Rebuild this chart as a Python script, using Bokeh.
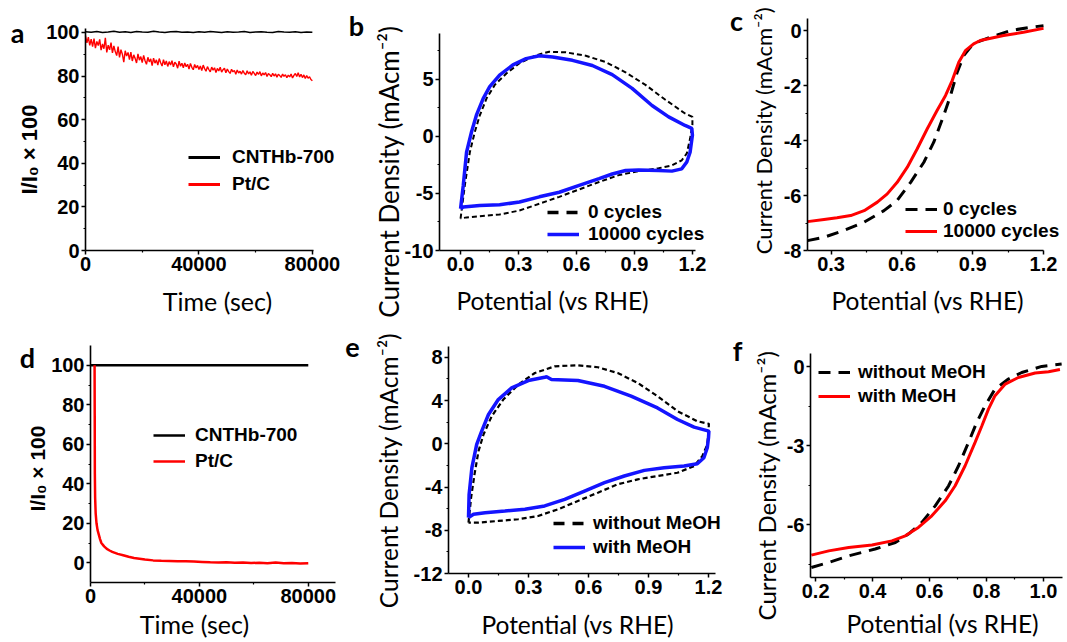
import math
import numpy as np
from bokeh.plotting import figure
from bokeh.layouts import column, row
from bokeh.models import (FixedTicker, NumeralTickFormatter, Legend, LegendItem,
                          Label, Range1d, LinearAxis)
from bokeh.embed import file_html
from bokeh.resources import INLINE

# ---------------- DATA ----------------
# (a) chronoamperometry, long-term stability
a_t_red = list(range(0, 80001, 500))
a_red = [
    98.5, 95.2, 97.8, 94.1, 96.9, 93.5, 97.2, 92.8, 95.9, 94.0,
    96.8, 91.9, 94.7, 92.5, 97.5, 90.8, 94.2, 92.0, 95.3, 90.6,
    93.8, 91.2, 89.4, 93.5, 88.6, 92.1, 90.0, 86.4, 91.6, 89.2,
    90.8, 87.5, 91.0, 86.9, 89.7, 88.1, 86.0, 90.2, 87.3, 88.9,
    86.2, 89.5, 87.0, 85.4, 88.6, 86.5, 87.9, 84.8, 88.2, 85.9,
    87.4, 85.0, 88.0, 86.1, 84.6, 87.5, 85.2, 86.9, 84.4, 86.6,
    85.1, 87.0, 84.2, 86.3, 85.5, 83.6, 86.8, 84.5, 85.9, 83.8,
    86.0, 84.3, 85.4, 83.2, 85.8, 84.0, 82.9, 85.3, 83.7, 84.9,
    83.0, 84.6, 82.5, 85.0, 83.4, 82.2, 84.3, 83.0, 81.9, 84.1,
    82.7, 83.8, 81.6, 83.5, 82.3, 84.0, 81.8, 82.9, 83.6, 81.5,
    83.2, 82.0, 81.2, 83.1, 81.9, 82.6, 80.8, 82.8, 81.4, 82.2,
    80.9, 82.5, 81.3, 80.6, 82.4, 81.0, 81.9, 80.4, 82.1, 81.2,
    80.2, 81.8, 80.7, 82.0, 80.1, 81.4, 80.5, 81.6, 79.8, 81.1,
    80.6, 79.7, 81.3, 80.0, 81.0, 79.5, 80.8, 80.2, 79.4, 80.9,
    79.9, 80.6, 79.2, 80.4, 79.6, 80.9, 79.1, 80.3, 81.2, 79.8,
    81.5, 79.6, 80.8, 79.3, 80.5, 78.9, 80.2, 79.0, 79.7, 78.4,
    77.8]
a_t_black = list(range(0, 80001, 2000))
a_black = [100.3, 100.1, 100.4, 100.0, 100.2, 100.5, 100.1, 100.3, 100.0, 100.4,
           100.2, 100.1, 100.5, 100.2, 100.0, 100.3, 100.4, 100.1, 100.2, 100.0,
           100.3, 100.1, 100.4, 100.2, 100.0, 100.3, 100.1, 100.2, 100.4, 100.0,
           100.2, 100.3, 100.1, 100.0, 100.4, 100.2, 100.1, 100.3, 100.0, 100.2,
           100.1]

# (b) CV before / after 10000 cycles
b_x0 = [0.0, 0.022, 0.048, 0.074, 0.099, 0.134, 0.177, 0.237, 0.305, 0.391, 0.459, 0.545,
        0.648, 0.751, 0.854, 0.957, 1.06, 1.162, 1.2, 1.2, 1.188, 1.171, 1.145, 1.094,
        1.025, 0.922, 0.819, 0.717, 0.614, 0.511, 0.408, 0.305, 0.202, 0.099, 0.031, 0.0]
b_y0 = [-7.2, -4.3, -1.4, 0.4, 1.8, 3.3, 4.5, 5.5, 6.4, 7.1, 7.4, 7.35,
        7.05, 6.5, 5.6, 4.5, 3.2, 2.0, 1.7, 1.0, -0.2, -1.5, -2.1, -2.55,
        -2.8, -3.05, -3.4, -4.0, -4.65, -5.3, -5.9, -6.5, -6.85, -7.0, -7.1, -7.2]
b_x1 = [0.0, 0.014, 0.031, 0.057, 0.082, 0.117, 0.151, 0.202, 0.271, 0.339, 0.408, 0.477,
        0.579, 0.682, 0.785, 0.888, 0.991, 1.077, 1.162, 1.197, 1.2, 1.188, 1.171, 1.145,
        1.094, 1.025, 0.922, 0.854, 0.785, 0.717, 0.614, 0.511, 0.408, 0.305, 0.202,
        0.099, 0.014, 0.0]
b_y1 = [-6.35, -4.3, -1.4, 0.4, 1.85, 3.3, 4.35, 5.35, 6.25, 6.8, 7.05, 6.95,
        6.65, 6.2, 5.4, 4.2, 2.7, 1.7, 0.95, 0.7, 0.1, -1.4, -2.25, -2.85,
        -3.05, -3.0, -2.95, -3.0, -3.3, -3.7, -4.3, -4.9, -5.3, -5.75, -6.0,
        -6.05, -6.2, -6.35]

# (c) LSV before / after 10000 cycles
c_x1 = [0.2, 0.27, 0.325, 0.383, 0.44, 0.496, 0.538, 0.58, 0.623, 0.665, 0.707, 0.749,
        0.785, 0.813, 0.841, 0.869, 0.904, 0.932, 1.031, 1.115, 1.2]
c_y1 = [-6.95, -6.87, -6.81, -6.73, -6.55, -6.24, -5.94, -5.52, -4.97, -4.3, -3.58, -2.91,
        -2.36, -1.82, -1.15, -0.73, -0.48, -0.36, -0.18, -0.06, 0.08]
c_x0 = [0.2, 0.27, 0.355, 0.44, 0.524, 0.58, 0.637, 0.693, 0.735, 0.777, 0.806, 0.834,
        0.862, 0.89, 0.918, 0.975, 1.059, 1.144, 1.2]
c_y0 = [-7.64, -7.52, -7.27, -6.97, -6.55, -6.18, -5.52, -4.79, -4.06, -3.09, -2.36, -1.52,
        -0.91, -0.61, -0.42, -0.24, 0.0, 0.12, 0.18]

# (d) chronoamperometry with methanol
d_t_black = [0, 20000, 40000, 60000, 80000]
d_black = [100, 100, 100, 100, 100]
d_t_red = [1500, 1550, 1600, 1700, 1900, 2200, 2600, 3000, 3500, 4000, 5000, 6000, 7000,
           8000, 9000, 10000, 12000, 14000, 16000, 18000, 20000, 23000, 26000, 29000,
           32000, 35000, 38000, 41000, 44000, 47000, 50000, 53000, 56000, 59000, 62000,
           65000, 68000, 71000, 74000, 77000, 80000]
d_red = [100.0, 75.0, 45.0, 33.0, 25.0, 20.0, 16.5, 14.5, 12.0, 10.0, 8.3, 7.0, 6.2,
         5.5, 5.0, 4.5, 3.8, 3.0, 2.4, 2.0, 1.6, 1.2, 1.0, 0.9,
         0.8, 0.7, 0.6, 0.4, 0.2, 0.1, 0.2, 0.0, 0.1, -0.1, 0.0,
         -0.2, 0.1, -0.3, -0.1, -0.4, -0.2]

# (e) CV without / with MeOH
e_x0 = [0.0, 0.013, 0.03, 0.05, 0.075, 0.116, 0.174, 0.249, 0.332, 0.431, 0.547, 0.647,
        0.746, 0.846, 0.945, 1.045, 1.144, 1.202, 1.2, 1.194, 1.169, 1.128, 1.045, 0.945,
        0.846, 0.746, 0.647, 0.547, 0.448, 0.348, 0.249, 0.149, 0.05, 0.0]
e_y0 = [-7.3, -4.98, -2.83, -0.68, 0.86, 2.55, 4.09, 5.48, 6.55, 7.17, 7.26, 7.08,
        6.55, 5.63, 4.4, 3.02, 2.09, 1.85, 1.17, -0.06, -1.14, -2.06, -2.68, -2.98,
        -3.29, -3.75, -4.52, -5.29, -6.06, -6.68, -6.98, -7.14, -7.29, -7.3]
e_x1 = [0.0, 0.003, 0.017, 0.041, 0.066, 0.1, 0.149, 0.216, 0.299, 0.381, 0.39, 0.415,
        0.547, 0.68, 0.813, 0.945, 1.045, 1.128, 1.202, 1.2, 1.194, 1.177, 1.144, 1.078,
        0.978, 0.879, 0.779, 0.68, 0.58, 0.481, 0.381, 0.282, 0.182, 0.083, 0.025, 0.0]
e_y1 = [-6.83, -4.68, -2.2, -0.06, 1.17, 2.71, 4.09, 5.17, 5.85, 6.15, 6.2, 5.94,
        5.85, 5.32, 4.4, 3.32, 2.25, 1.54, 1.17, 0.55, -0.37, -1.29, -1.85, -2.06,
        -2.22, -2.46, -2.98, -3.6, -4.37, -5.14, -5.75, -6.06, -6.22, -6.37, -6.52, -6.83]

# (f) LSV without / with MeOH
f_x1 = [0.185, 0.246, 0.316, 0.398, 0.468, 0.515, 0.561, 0.608, 0.655, 0.69, 0.725, 0.76,
        0.784, 0.807, 0.83, 0.866, 0.912, 0.971, 1.018, 1.058]
f_y1 = [-7.15, -6.99, -6.86, -6.77, -6.61, -6.42, -6.1, -5.66, -5.09, -4.52, -3.76, -2.87,
        -2.24, -1.61, -1.1, -0.66, -0.41, -0.24, -0.19, -0.11]
f_x0 = [0.185, 0.246, 0.316, 0.409, 0.48, 0.526, 0.573, 0.62, 0.667, 0.702, 0.737, 0.766,
        0.795, 0.83, 0.877, 0.924, 0.994, 1.064]
f_y0 = [-7.62, -7.43, -7.18, -6.92, -6.67, -6.35, -5.91, -5.28, -4.52, -3.76, -2.87, -2.11,
        -1.48, -0.85, -0.47, -0.22, 0.01, 0.1]

# tick values
t_time = [0, 40000, 80000]
t_time_minor = [20000, 60000]
t_pct = [0, 20, 40, 60, 80, 100]
t_pct_minor = [10, 30, 50, 70, 90]
t_pot = [0.0, 0.3, 0.6, 0.9, 1.2]
t_pot_minor = [0.15, 0.45, 0.75, 1.05]
t_pot_f = [0.2, 0.4, 0.6, 0.8, 1.0]
t_pot_f_minor = [0.3, 0.5, 0.7, 0.9]
t_b_y = [-10, -5, 0, 5]
t_b_y_minor = [-7.5, -2.5, 2.5, 7.5]
t_c_y = [-8, -6, -4, -2, 0]
t_c_y_minor = [-7, -5, -3, -1]
t_e_y = [-12, -8, -4, 0, 4, 8]
t_e_y_minor = [-10, -6, -2, 2, 6]
t_f_y = [-6, -3, 0]
t_f_y_minor = [-7.5, -4.5, -1.5]

# ---------------- STYLE / LAYOUT ----------------
RED = "#ff0000"
BLUE = "#1414ff"
BLACK = "#000000"
TICK_FONT = "Liberation Sans"
TITLE_FONT = "Lato"
LEG_FONT = "Liberation Sans"
NO_POINT = np.array([np.nan])   # legend-only proxy renderers draw nothing on the plot

# page-pixel geometry: fig=(left, top, width, height), axes box=(left, top, right, bottom)
A = dict(fig=(0, 0, 365, 321), box=(85, 28, 313, 250), xr=(0, 80400), yr=(0, 101.8))
B = dict(fig=(365, 0, 381, 321), box=(439, 33, 695, 250), xr=(-0.109, 1.216), yr=(-10, 9.0))
C = dict(fig=(746, 0, 320, 321), box=(807, 18, 1043, 250), xr=(0.2, 1.2), yr=(-8, 0.44))
D = dict(fig=(0, 321, 365, 320), box=(90, 345, 335, 582), xr=(0, 90000), yr=(-10, 110))
E = dict(fig=(365, 321, 382, 320), box=(448, 346, 715, 573), xr=(-0.1, 1.235), yr=(-12, 9))
F = dict(fig=(747, 321, 319, 320), box=(810, 353, 1062, 577), xr=(0.182, 1.067), yr=(-8, 0.5))


def to_data(spec, px, py):
    fl, ft, fr, fb = spec["box"]
    x0, x1 = spec["xr"]
    y0, y1 = spec["yr"]
    sx = (x1 - x0) / (fr - fl)
    sy = (y1 - y0) / (fb - ft)
    return (x0 + (px - fl) * sx, y0 + (fb - py) * sy)


def make_fig(spec, xt, xtm, yt, ytm, xfmt):
    gl, gt, gw, gh = spec["fig"]
    x_lo, y_hi = to_data(spec, gl, gt)
    x_hi, y_lo = to_data(spec, gl + gw, gt + gh)
    p = figure(width=gw, height=gh, output_backend="svg", toolbar_location=None,
               x_range=Range1d(x_lo, x_hi), y_range=Range1d(y_lo, y_hi),
               x_axis_location=None, y_axis_location=None,
               min_border=0, min_border_left=0, min_border_right=0,
               min_border_top=0, min_border_bottom=0)
    p.grid.visible = False
    p.outline_line_color = None
    xa = LinearAxis(fixed_location=spec["yr"][0], bounds=spec["xr"],
                    ticker=FixedTicker(ticks=xt, minor_ticks=xtm),
                    formatter=NumeralTickFormatter(format=xfmt))
    ya = LinearAxis(fixed_location=spec["xr"][0], bounds=spec["yr"],
                    ticker=FixedTicker(ticks=yt, minor_ticks=ytm),
                    formatter=NumeralTickFormatter(format="0"))
    for ax in (xa, ya):
        ax.axis_line_width = 1.6
        ax.axis_line_color = BLACK
        ax.major_tick_line_width = 1.5
        ax.minor_tick_line_width = 1.2
        ax.major_tick_out = 4
        ax.major_tick_in = 0
        ax.minor_tick_out = 2
        ax.minor_tick_in = 0
        ax.major_label_text_font = TICK_FONT
        ax.major_label_text_font_style = "bold"
        ax.major_label_text_font_size = "20px"
        ax.major_label_text_color = BLACK
        ax.major_label_standoff = 2
    p.add_layout(xa, "below")
    p.add_layout(ya, "left")
    return p


def add_title(p, spec, text, px, py, size, vertical=False, bold=False):
    x, y = to_data(spec, px, py)
    p.add_layout(Label(x=x, y=y, text=text, angle=(math.pi / 2 if vertical else 0),
                       text_font=(TICK_FONT if bold else TITLE_FONT),
                       text_font_style=("bold" if bold else "normal"),
                       text_font_size=size, text_align="center", text_baseline="middle",
                       text_color=BLACK))


def add_legend(p, spec, items, left_px, first_center_px, spacing, standoff=10, rowh=24):
    gl, gt, gw, gh = spec["fig"]
    top = first_center_px - 3 - rowh / 2
    height = rowh * len(items) + spacing * (len(items) - 1)
    vx = left_px - gl
    vy = (gt + gh) - (top + height)
    leg = Legend(items=[LegendItem(label=l, renderers=[r]) for l, r in items],
                 location=(vx, vy), orientation="vertical", padding=0, margin=0,
                 spacing=spacing, glyph_width=32, glyph_height=20, label_height=20,
                 label_standoff=standoff, border_line_alpha=0, background_fill_alpha=0,
                 label_text_font=LEG_FONT, label_text_font_style="bold",
                 label_text_font_size="19px", label_text_color=BLACK)
    p.add_layout(leg)


def add_letter(p, spec, letter, px, py):
    x, y = to_data(spec, px, py)
    p.add_layout(Label(x=x, y=y, text=letter, text_font=TITLE_FONT, text_font_style="bold",
                       text_font_size="27px", text_align="center", text_baseline="middle",
                       text_color=BLACK))


YT_CD = "Current Density (mAcm\u207b\u00b2)"
YT_I = "I/I\u2080 \u00d7 100"
XT_T = "Time (sec)"
XT_P = "Potential (vs RHE)"

# ---- (a)
pa = make_fig(A, t_time, t_time_minor, t_pct, t_pct_minor, "0")
pa.line(a_t_black, a_black, line_color=BLACK, line_width=1.5)
pa.line(a_t_red, a_red, line_color=RED, line_width=1.4)
la1 = pa.line(NO_POINT, NO_POINT, line_color=BLACK, line_width=3)
la2 = pa.line(NO_POINT, NO_POINT, line_color=RED, line_width=3)
add_legend(pa, A, [("CNTHb-700", la1), ("Pt/C", la2)], 188, 157, 5, 12)
add_title(pa, A, XT_T, 217, 300, "25px")
add_title(pa, A, YT_I, 29, 149, "22px", vertical=True, bold=True)
add_letter(pa, A, "a", 17, 32)
add_letter(pa, A, "b", 356, 25)

# ---- (b)
pb = make_fig(B, t_pot, t_pot_minor, t_b_y, t_b_y_minor, "0.0")
pb.line(b_x0, b_y0, line_color=BLACK, line_width=2, line_dash="5 3")
pb.line(b_x1, b_y1, line_color=BLUE, line_width=3.5)
lb1 = pb.line(NO_POINT, NO_POINT, line_color=BLACK, line_width=3.5, line_dash="11 8")
lb2 = pb.line(NO_POINT, NO_POINT, line_color=BLUE, line_width=3.5)
add_legend(pb, B, [("0 cycles", lb1), ("10000 cycles", lb2)], 547, 212, 0, 9)
add_title(pb, B, XT_P, 552, 300, "24.5px")
add_title(pb, B, YT_CD, 388, 171, "26px", vertical=True)
add_letter(pb, B, "c", 736, 20)

# ---- (c)
pc = make_fig(C, t_pot[1:], t_pot_minor[1:], t_c_y, t_c_y_minor, "0.0")
rc0 = pc.line(c_x0, c_y0, line_color=BLACK, line_width=3, line_dash="12 8")
rc1 = pc.line(c_x1, c_y1, line_color=RED, line_width=3)
add_legend(pc, C, [("0 cycles", rc0), ("10000 cycles", rc1)], 905, 209, 0, 6)
add_title(pc, C, XT_P, 927, 300, "24.5px")
add_title(pc, C, YT_CD, 763, 130, "22px", vertical=True)

# ---- (d)
pd_ = make_fig(D, t_time, t_time_minor, t_pct, t_pct_minor, "0")
rd0 = pd_.line(d_t_black, d_black, line_color=BLACK, line_width=2.5)
rd1 = pd_.line(d_t_red, d_red, line_color=RED, line_width=2.5)
add_legend(pd_, D, [("CNTHb-700", rd0), ("Pt/C", rd1)], 153, 435, 4, 10)
add_title(pd_, D, XT_T, 194, 623, "25px")
add_title(pd_, D, YT_I, 37, 468, "21px", vertical=True, bold=True)
add_letter(pd_, D, "d", 27, 357)
add_letter(pd_, D, "e", 352, 347)

# ---- (e)
pe = make_fig(E, t_pot, t_pot_minor, t_e_y, t_e_y_minor, "0.0")
pe.line(e_x0, e_y0, line_color=BLACK, line_width=2.2, line_dash="5 3")
pe.line(e_x1, e_y1, line_color=BLUE, line_width=3.5)
le1 = pe.line(NO_POINT, NO_POINT, line_color=BLACK, line_width=3.5, line_dash="11 8")
le2 = pe.line(NO_POINT, NO_POINT, line_color=BLUE, line_width=3.5)
add_legend(pe, E, [("without MeOH", le1), ("with MeOH", le2)], 553, 523, 2, 8)
add_title(pe, E, XT_P, 577, 624, "24.5px")
add_title(pe, E, YT_CD, 388, 470, "24.5px", vertical=True)
add_letter(pe, E, "f", 737, 350)

# ---- (f)
pf = make_fig(F, t_pot_f, t_pot_f_minor, t_f_y, t_f_y_minor, "0.0")
rf0 = pf.line(f_x0, f_y0, line_color=BLACK, line_width=3, line_dash="12 8")
rf1 = pf.line(f_x1, f_y1, line_color=RED, line_width=3)
add_legend(pf, F, [("without MeOH", rf0), ("with MeOH", rf1)], 818, 372, 2, 8)
add_title(pf, F, XT_P, 942, 623, "24.5px")
add_title(pf, F, YT_CD, 766, 485, "24px", vertical=True)

layout = column(row(pa, pb, pc, spacing=0), row(pd_, pe, pf, spacing=0), spacing=0)

open("out.html", "w").write(file_html(layout, INLINE))
